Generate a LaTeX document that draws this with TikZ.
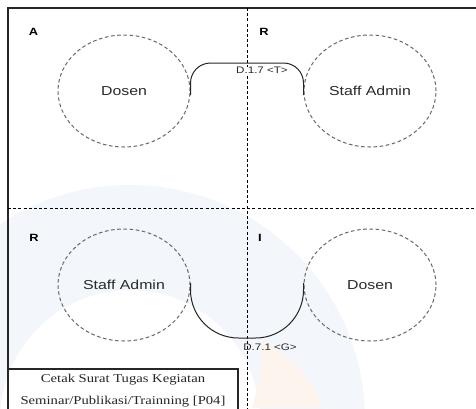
\documentclass[tikz,border=0pt]{standalone}
\usepackage{fontspec}
\usetikzlibrary{shapes.geometric}
\newfontfamily\lblfont[FakeStretch=1.22]{Liberation Sans}
\newfontfamily\boxfont[FakeStretch=1.22]{Liberation Serif}
\definecolor{ringblue}{HTML}{F3F6FB}
\definecolor{flameorange}{HTML}{FEF4EE}
\definecolor{dashgray}{HTML}{686868}
\definecolor{txtgray}{HTML}{2A2A2A}
\tikzset{
  role/.style={ellipse, draw=dashgray, dash pattern=on 3.6pt off 2.6pt, line width=1pt,
    minimum width=132pt, minimum height=112pt, inner sep=0pt,
    font=\lblfont\fontsize{13}{15}\selectfont, text=txtgray},
  quad/.style={font=\lblfont\bfseries\fontsize{10.5}{12}\selectfont, inner sep=0pt},
  conn/.style={draw=black!85, line width=1pt},
  msg/.style={font=\lblfont\fontsize{9.5}{11}\selectfont, inner sep=0pt, text=txtgray},
  divider/.style={draw=black, line width=1pt, dash pattern=on 3pt off 2.2pt},
  frame/.style={draw=black!85, line width=1.1pt},
  caption/.style={font=\boxfont\fontsize{12}{14}\selectfont, inner sep=0pt, text=black!85}
}
\begin{document}
\begin{tikzpicture}[x=1pt, y=-1pt]
\useasboundingbox (0,0) rectangle (476,408);
\fill[white] (0,0) rectangle (476,408);
% faint backdrop shapes
\fill[ringblue, even odd rule] (130,420) circle (235) (130,420) circle (130);
\fill[flameorange] (262,342) .. controls (300,360) and (318,390) .. (322,408) -- (252,408) .. controls (258,385) and (262,365) .. (262,342) -- cycle;
% quadrant frame
\draw[frame] (8,409) -- (8,8) -- (477,8);
\draw[divider] (247,8) -- (247,409);
\draw[divider] (8,208) -- (477,208);
% quadrant letters
\node[quad] (qa) at (33.5,31.5) {A};
\node[quad] (qr1) at (264,31.5) {R};
\node[quad] (qr2) at (34,238) {R};
\node[quad] (qi) at (260,238) {I};
% roles
\node[role] (dosenA) at (124,91) {Dosen};
\node[role] (staffR) at (370,91) {Staff Admin};
\node[role] (staffB) at (124,285) {Staff Admin};
\node[role] (dosenI) at (370,285) {Dosen};
% messages
\draw[conn, rounded corners=20pt] ([yshift=-4pt]dosenA.east) -- (dosenA.east |- 0,63)
  -- (staffR.west |- 0,63) -- ([yshift=-4pt]staffR.west);
\node[msg, fill=white, inner xsep=1pt] (m1) at (262,70) {D.1.7 <T>};
\draw[conn, rounded corners=48pt] ([yshift=2pt]staffB.east) -- (staffB.east |- 0,338)
  -- (dosenI.west |- 0,338) -- ([yshift=2pt]dosenI.west);
\node[msg] (m2) at (270,347) {D.7.1 <G>};
% process caption
\draw[frame] (8,369) -- (238,369) -- (238,409);
\node[caption] (c1) at (123,380) {Cetak Surat Tugas Kegiatan};
\node[caption] (c2) at (123,402) {Seminar/Publikasi/Trainning [P04]};
\end{tikzpicture}
\end{document}
